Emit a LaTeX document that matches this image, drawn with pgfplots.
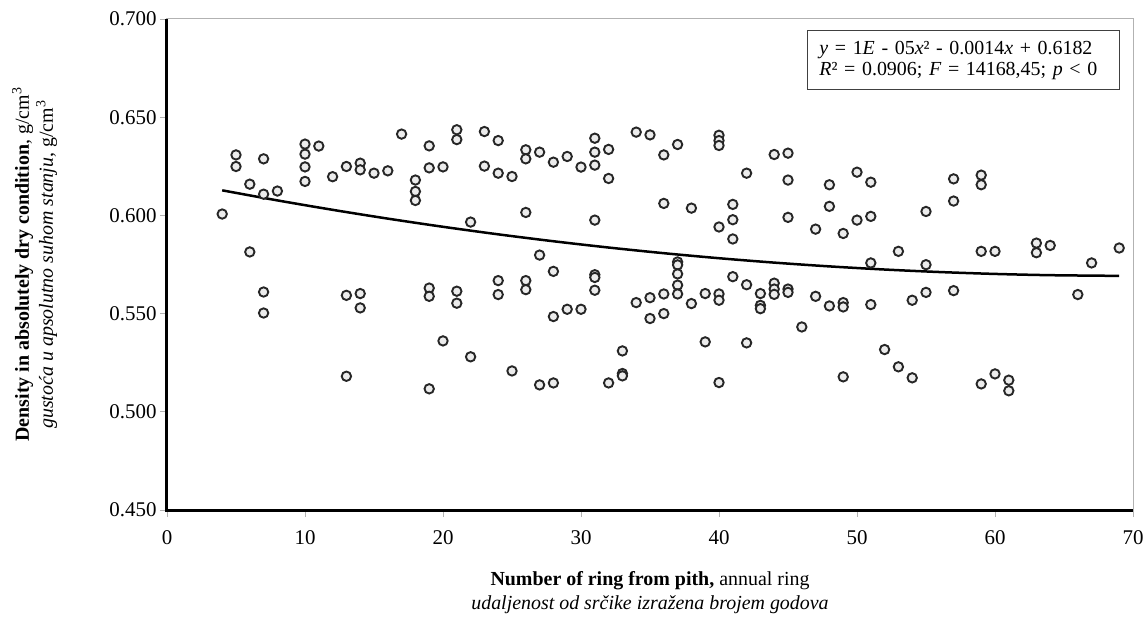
\documentclass[border=0pt]{standalone}
\usepackage{fontspec}
\setmainfont{Liberation Serif}
\usepackage{pgfplots}
\pgfplotsset{compat=1.18}
\pgfplotstableread{
x y
4 0.6007
5 0.6308
5 0.6249
6 0.6159
6 0.5814
7 0.6288
7 0.6108
7 0.5610
7 0.5503
8 0.6124
10 0.6363
10 0.6312
10 0.6247
10 0.6173
11 0.6353
12 0.6197
13 0.6249
13 0.5593
13 0.5181
14 0.6266
14 0.6232
14 0.5602
14 0.5529
15 0.6215
16 0.6227
17 0.6414
18 0.6180
18 0.6122
18 0.6076
19 0.6354
19 0.6242
19 0.5630
19 0.5588
19 0.5117
20 0.6247
20 0.5361
21 0.6436
21 0.6386
21 0.5614
21 0.5553
22 0.5966
22 0.5280
23 0.6427
23 0.6251
24 0.6381
24 0.6215
24 0.5668
24 0.5597
25 0.6198
25 0.5208
26 0.6334
26 0.6288
26 0.6015
26 0.5668
26 0.5622
27 0.6322
27 0.5798
27 0.5137
28 0.6271
28 0.5715
28 0.5485
28 0.5147
29 0.6300
29 0.5522
30 0.6246
30 0.5522
31 0.6393
31 0.6322
31 0.6256
31 0.5976
31 0.5698
31 0.5684
31 0.5619
32 0.6336
32 0.6188
32 0.5147
33 0.5310
33 0.5195
33 0.5183
34 0.6424
34 0.5556
35 0.6410
35 0.5581
35 0.5475
36 0.6308
36 0.6061
36 0.5600
36 0.5500
37 0.6361
37 0.5763
37 0.5748
37 0.5702
37 0.5645
37 0.5600
38 0.6037
38 0.5551
39 0.5602
39 0.5356
40 0.6408
40 0.6381
40 0.6356
40 0.5941
40 0.5600
40 0.5568
40 0.5149
41 0.6056
41 0.5978
41 0.5880
41 0.5688
42 0.6215
42 0.5647
42 0.5351
43 0.5602
43 0.5542
43 0.5525
44 0.6310
44 0.5655
44 0.5625
44 0.5598
45 0.6317
45 0.6180
45 0.5990
45 0.5625
45 0.5608
46 0.5432
47 0.5930
47 0.5588
48 0.6156
48 0.6046
48 0.5539
49 0.5908
49 0.5556
49 0.5534
49 0.5178
50 0.6220
50 0.5976
51 0.6169
51 0.5995
51 0.5758
51 0.5546
52 0.5317
53 0.5817
53 0.5229
54 0.5568
54 0.5173
55 0.6020
55 0.5749
55 0.5608
57 0.6186
57 0.6073
57 0.5617
59 0.6205
59 0.6156
59 0.5817
59 0.5142
60 0.5817
60 0.5193
61 0.5161
61 0.5107
63 0.5859
63 0.5810
64 0.5847
66 0.5597
67 0.5758
69 0.5834
}\points
\pgfplotstableread{
x y
4 0.61276
8 0.60764
12 0.60284
16 0.59836
20 0.59420
24 0.59036
28 0.58684
32 0.58364
36 0.58076
40 0.57820
44 0.57596
48 0.57404
52 0.57244
56 0.57116
60 0.57020
64 0.56956
69 0.56921
}\trend
\begin{document}
\begin{tikzpicture}[font=\fontsize{20}{24}\selectfont]
\begin{axis}[
  scale only axis, width=966bp, height=491bp,
  xmin=0, xmax=70, ymin=0.45, ymax=0.70,
  xtick={0,10,20,30,40,50,60,70},
  ytick={0.45,0.5,0.55,0.6,0.65,0.7},
  tick pos=left,
  /pgf/number format/assume math mode=true,
  tick label style={font=\fontsize{21}{24}\selectfont},
  yticklabel style={/pgf/number format/.cd, fixed, fixed zerofill, precision=3},
  xticklabel style={yshift=-10bp},
  tick align=outside, major tick length=7bp,
  tick style={gray!60, line width=0.8bp},
  axis line style={gray!60, line width=1bp},
  clip=false,
  ylabel={\textbf{Density in absolutely dry condition}, g/cm\textsuperscript{3}\\\textit{gustoća u apsolutno suhom stanju}, g/cm\textsuperscript{3}},
  ylabel style={align=center, anchor=center, at={(axis description cs:-0.137,0.5)}},
  xlabel={\textbf{Number of ring from pith,} annual ring\\\textit{udaljenost od srčike izražena brojem godova}},
  xlabel style={align=center, anchor=center, at={(axis description cs:0.5,-0.168)}},
]
\addplot[only marks, mark=*, mark size=4.7bp,
  mark options={draw=black!85, fill=gray!15, line width=1.9bp}] table[x=x,y=y] {\points};
\addplot[black, line width=2.5bp, smooth, no marks] table[x=x,y=y] {\trend};
\draw[black, line width=3bp] (rel axis cs:0,1) -- (rel axis cs:0,0) -- (rel axis cs:1,0);
\node[draw=gray!50!black, line width=1.2bp, fill=white, anchor=north east,
  text width=288bp, inner xsep=12bp, minimum height=59bp, align=left,
  font=\fontsize{20}{21}\selectfont]
  at ([xshift=-13bp,yshift=-11bp]rel axis cs:1,1)
  {\textit{y} = 1\textit{E} - 05\textit{x}² - 0.0014\textit{x} + 0.6182\\
   \textit{R}² = 0.0906; \textit{F} = 14168,45; \textit{p} < 0};
\coordinate (LL) at (rel axis cs:0,0);
\coordinate (UR) at (rel axis cs:1,1);
\end{axis}
\pgfresetboundingbox
\path[use as bounding box] ([xshift=-167bp,yshift=-107bp]LL) rectangle ([xshift=12bp,yshift=19bp]UR);
\end{tikzpicture}
\end{document}
